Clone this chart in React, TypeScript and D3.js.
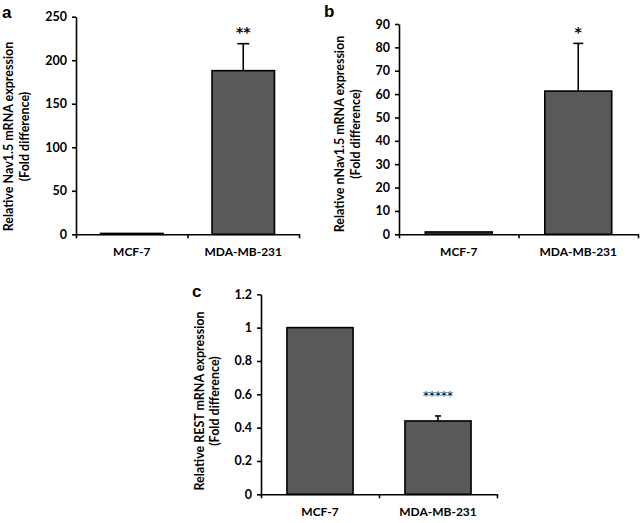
import React, { useEffect, useRef } from "react";
import * as d3 from "d3";

// cell lines on the x axis of every panel
const categories = ["MCF-7", "MDA-MB-231"];

// a: Nav1.5
const nav15Means = [1, 188];
const nav15Errors = [0, 31];
const nav15Ticks = [0, 50, 100, 150, 200, 250];
const nav15Stars = ["", "**"];

// b: nNav1.5
const nNav15Means = [1, 61.3];
const nNav15Errors = [0, 20.4];
const nNav15Ticks = [0, 10, 20, 30, 40, 50, 60, 70, 80, 90];
const nNav15Stars = ["", "*"];

// c: REST
const restMeans = [1, 0.44];
const restErrors = [0, 0.03];
const restTicks = [0, 0.2, 0.4, 0.6, 0.8, 1, 1.2];
const restStars = ["", "*****"];

type Panel = {
  letter: string;
  letterX: number;
  letterY: number;
  left: number;
  right: number;
  top: number;
  bottom: number;
  means: number[];
  errors: number[];
  ticks: number[];
  stars: string[];
  labelLines: string[];
  labelX: number[];
  labelY: number;
  starGap: number;
  starSize: number;
  starWeight: string;
  capW: number;
};

const panels: Panel[] = [
  {
    letter: "a", letterX: 2, letterY: 18,
    left: 76, right: 299, top: 16.7, bottom: 234.3,
    means: nav15Means, errors: nav15Errors, ticks: nav15Ticks, stars: nav15Stars,
    labelLines: ["Relative Nav1.5 mRNA expression", "(Fold difference)"],
    labelX: [12.5, 28.5], labelY: 136.5,
    starGap: 7, starSize: 14, starWeight: "bold", capW: 12,
  },
  {
    letter: "b", letterX: 324, letterY: 17,
    left: 399, right: 638, top: 24, bottom: 234.3,
    means: nNav15Means, errors: nNav15Errors, ticks: nNav15Ticks, stars: nNav15Stars,
    labelLines: ["Relative nNav1.5 mRNA expression", "(Fold difference)"],
    labelX: [343.5, 359.5], labelY: 134,
    starGap: 6, starSize: 14, starWeight: "bold", capW: 10,
  },
  {
    letter: "c", letterX: 192, letterY: 297,
    left: 261, right: 497, top: 294.3, bottom: 494.3,
    means: restMeans, errors: restErrors, ticks: restTicks, stars: restStars,
    labelLines: ["Relative REST mRNA expression", "(Fold difference)"],
    labelX: [203.5, 218.5], labelY: 401,
    starGap: 16, starSize: 12, starWeight: "normal", capW: 6,
  },
];

const FONT = "Lato, 'Open Sans', sans-serif";

const App = () => {
  const ref = useRef<SVGSVGElement>(null);

  useEffect(() => {
    drawChart();
  }, []);

  const drawChart = () => {
    const svg = d3.select(ref.current);
    svg.selectAll("*").remove();

    panels.forEach((p) => {
      const g = svg.append("g");

      const x = d3
        .scaleBand()
        .domain(categories)
        .range([p.left, p.right])
        .paddingInner(0.44)
        .paddingOuter(0.22);

      const y = d3
        .scaleLinear()
        .domain([0, d3.max(p.ticks) as number])
        .range([p.bottom, p.top]);

      // bars
      g.selectAll("rect.bar")
        .data(categories)
        .enter()
        .append("rect")
        .attr("class", "bar")
        .attr("x", (d) => x(d) as number)
        .attr("y", (d, i) => y(p.means[i]))
        .attr("width", x.bandwidth())
        .attr("height", (d, i) => p.bottom - y(p.means[i]))
        .attr("fill", "#595959")
        .attr("stroke", "#000")
        .attr("stroke-width", 1.6);

      // error bars (upper only)
      categories.forEach((c, i) => {
        if (!p.errors[i]) return;
        const cx = (x(c) as number) + x.bandwidth() / 2;
        g.append("line")
          .attr("x1", cx).attr("x2", cx)
          .attr("y1", y(p.means[i])).attr("y2", y(p.means[i] + p.errors[i]))
          .attr("stroke", "#000").attr("stroke-width", 1.6);
        g.append("line")
          .attr("x1", cx - p.capW / 2).attr("x2", cx + p.capW / 2)
          .attr("y1", y(p.means[i] + p.errors[i])).attr("y2", y(p.means[i] + p.errors[i]))
          .attr("stroke", "#000").attr("stroke-width", 1.6);
      });

      // significance stars
      categories.forEach((c, i) => {
        if (!p.stars[i]) return;
        const cx = (x(c) as number) + x.bandwidth() / 2;
        g.append("text")
          .attr("x", cx)
          .attr("y", y(p.means[i] + p.errors[i]) - p.starGap)
          .attr("text-anchor", "middle")
          .attr("font-family", "'DejaVu Sans', sans-serif")
          .attr("font-size", p.starSize)
          .attr("font-weight", p.starWeight)
          .attr("fill", "#000")
          .text(p.stars[i]);
      });

      // Y Axis
      const yAxis = g
        .append("g")
        .attr("transform", `translate(${p.left},0)`)
        .call(
          d3.axisLeft(y)
            .tickValues(p.ticks)
            .tickSize(4)
            .tickSizeOuter(0)
            .tickPadding(5)
            .tickFormat((d) => String(d))
        );
      yAxis.attr("font-family", FONT).attr("font-size", 12.5).attr("font-weight", "bold");
      yAxis.selectAll("path, line").attr("stroke", "#000").attr("stroke-width", 1.6);
      yAxis.selectAll("text").attr("fill", "#000");

      // X Axis: plain line with ticks between the groups
      const xEdges = d3
        .scaleLinear()
        .domain([0, categories.length])
        .range([p.left, p.right]);
      const xAxis = g
        .append("g")
        .attr("transform", `translate(0,${p.bottom})`)
        .call(
          d3.axisBottom(xEdges)
            .tickValues(d3.range(categories.length + 1))
            .tickSize(4)
            .tickSizeOuter(0)
            .tickFormat(() => "")
        );
      xAxis.selectAll("path, line").attr("stroke", "#000").attr("stroke-width", 1.6);

      // category labels
      g.selectAll("text.cat")
        .data(categories)
        .enter()
        .append("text")
        .attr("class", "cat")
        .attr("x", (d) => (x(d) as number) + x.bandwidth() / 2)
        .attr("y", p.bottom + 22)
        .attr("text-anchor", "middle")
        .attr("font-family", FONT)
        .attr("font-size", 12)
        .attr("font-weight", "bold")
        .attr("fill", "#000")
        .text((d) => d);

      // Y label
      p.labelLines.forEach((line, k) => {
        g.append("text")
          .attr("transform", `translate(${p.labelX[k]},${p.labelY}) rotate(-90)`)
          .attr("text-anchor", "middle")
          .attr("font-family", FONT)
          .attr("font-size", 12.5)
          .attr("font-weight", "bold")
          .attr("fill", "#000")
          .text(line);
      });

      // panel letter
      g.append("text")
        .attr("x", p.letterX)
        .attr("y", p.letterY)
        .attr("font-family", "'Liberation Sans', Arial, sans-serif")
        .attr("font-size", 17)
        .attr("font-weight", "bold")
        .attr("fill", "#000")
        .text(p.letter);
    });
  };

  return (
    <svg
      ref={ref}
      width={640}
      height={523}
      style={{ position: "absolute", left: 0, top: 0, background: "#fff" }}
    ></svg>
  );
};

export default App;
